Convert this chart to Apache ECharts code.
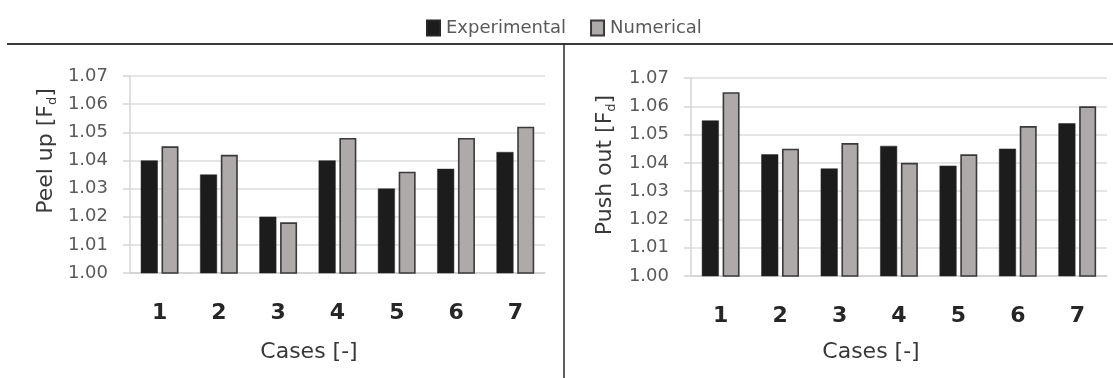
<!DOCTYPE html>
<html>
<head>
<meta charset="utf-8">
<script src="https://cdn.jsdelivr.net/npm/echarts@6/dist/echarts.min.js"></script>
<style>
html,body{margin:0;padding:0;background:#fff;}
#chart{width:1113px;height:378px;}
</style>
</head>
<body>
<div id="chart"></div>
<script>
// ---- data ----
const categories = ['1', '2', '3', '4', '5', '6', '7'];
const seriesNames = ['Experimental', 'Numerical'];
const peelUpExperimental = [1.040, 1.035, 1.020, 1.040, 1.030, 1.037, 1.043];
const peelUpNumerical    = [1.045, 1.042, 1.018, 1.048, 1.036, 1.048, 1.052];
const pushOutExperimental = [1.055, 1.043, 1.038, 1.046, 1.039, 1.045, 1.054];
const pushOutNumerical    = [1.065, 1.045, 1.047, 1.040, 1.043, 1.053, 1.060];
const yMin = 1.00, yMax = 1.07, yStep = 0.01;
const leftYTitle = ['Peel up [F', 'd', ']'];
const rightYTitle = ['Push out [F', 'd', ']'];
const xTitle = 'Cases [-]';

// ---- styles ----
const FONT = 'DejaVu Sans';
const expStyle = { color: '#1c1c1c', borderColor: '#262626', borderWidth: 0.5 };
const numStyle = { color: '#aeaaaa', borderColor: '#3a3a3a', borderWidth: 1.6 };

function xAxisCfg(gi) {
  return {
    type: 'category', gridIndex: gi, data: categories,
    axisLine: { show: true, lineStyle: { color: '#cfcfcf', width: 1.5 } },
    axisTick: { show: false },
    axisLabel: { margin: 29, fontFamily: FONT, fontSize: 22, fontWeight: 'bold', color: '#262626' }
  };
}
function yAxisCfg(gi) {
  return {
    type: 'value', gridIndex: gi, min: yMin, max: yMax, interval: yStep,
    axisLine: { show: true, lineStyle: { color: '#d5d5d5', width: 1.5 } },
    axisTick: { show: true, length: 7, lineStyle: { color: '#d5d5d5', width: 1.5 } },
    splitLine: { show: true, lineStyle: { color: '#dcdcdc', width: 1.5 } },
    axisLabel: { margin: 22, fontFamily: FONT, fontSize: 18, color: '#595959',
      formatter: v => v.toFixed(2) }
  };
}
function barSeries(name, data, gi, style) {
  return {
    name: name, type: 'bar', xAxisIndex: gi, yAxisIndex: gi, data: data,
    barWidth: 17, barGap: '22%', itemStyle: style, clip: true
  };
}
function yTitle(parts, x, y) {
  return {
    type: 'text', x: x, y: y, rotation: Math.PI / 2,
    style: {
      text: '{a|' + parts[0] + '}{b|' + parts[1] + '}{a|' + parts[2] + '}',
      align: 'center', verticalAlign: 'middle',
      rich: {
        a: { fontFamily: FONT, fontSize: 22, fill: '#383838', lineHeight: 26 },
        b: { fontFamily: FONT, fontSize: 13, fill: '#383838', lineHeight: 26, padding: [14, 0, 0, 0] }
      }
    }
  };
}
function xTitleEl(x, y) {
  return {
    type: 'text', x: x, y: y,
    style: { text: xTitle, align: 'center', verticalAlign: 'middle',
      fontFamily: FONT, fontSize: 22, fill: '#383838' }
  };
}

const chart = echarts.init(document.getElementById('chart'), null, { renderer: 'canvas' });
chart.setOption({
  animation: false,
  backgroundColor: '#ffffff',
  legend: {
    data: seriesNames, left: 421, top: 14, icon: 'rect',
    itemWidth: 13, itemHeight: 15, itemGap: 24,
    textStyle: { fontFamily: FONT, fontSize: 18, color: '#595959', padding: [0, 0, 0, 1] }
  },
  grid: [
    { left: 130, top: 76, width: 415, height: 197 },
    { left: 691, top: 78, width: 416, height: 198 }
  ],
  xAxis: [xAxisCfg(0), xAxisCfg(1)],
  yAxis: [yAxisCfg(0), yAxisCfg(1)],
  series: [
    barSeries(seriesNames[0], peelUpExperimental, 0, expStyle),
    barSeries(seriesNames[1], peelUpNumerical, 0, numStyle),
    barSeries(seriesNames[0], pushOutExperimental, 1, expStyle),
    barSeries(seriesNames[1], pushOutNumerical, 1, numStyle)
  ],
  graphic: [
    { type: 'line', shape: { x1: 7, y1: 44, x2: 1113, y2: 44 }, style: { stroke: '#3a3a3a', lineWidth: 2 } },
    { type: 'line', shape: { x1: 564, y1: 44, x2: 564, y2: 378 }, style: { stroke: '#2a2a2a', lineWidth: 1.5 } },
    yTitle(leftYTitle, 46, 151),
    yTitle(rightYTitle, 605, 165),
    xTitleEl(309, 352),
    xTitleEl(871, 352)
  ]
});
</script>
</body>
</html>
